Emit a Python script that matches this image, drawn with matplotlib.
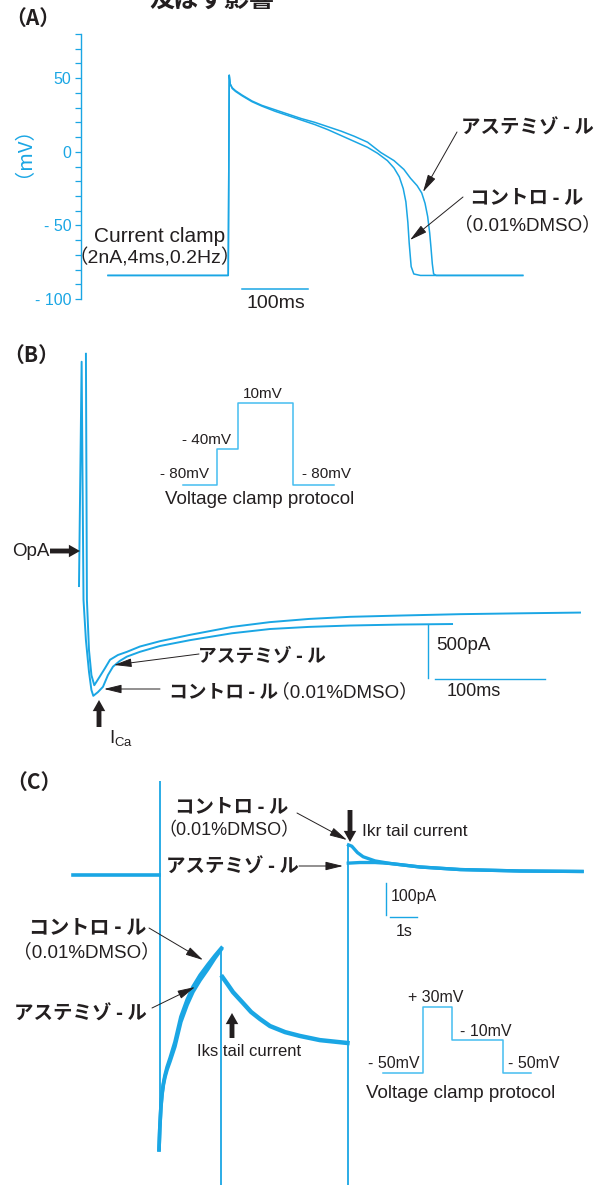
import matplotlib
matplotlib.use('Agg')
import matplotlib.pyplot as plt

plt.rcParams['mathtext.fontset'] = 'custom'
plt.rcParams['mathtext.rm'] = 'Liberation Sans'
plt.rcParams['mathtext.it'] = 'Liberation Sans'

# (A) action potential, ms / mV
ap_ctrl_t = [-183, -1, 0.5, 2, 5, 10, 20, 35, 50, 70, 90, 110, 130, 150, 170, 190, 210, 225, 240, 250,
             258, 264, 268, 271, 273, 276, 280, 290, 445]
ap_ctrl_v = [-84, -84, 52, 46, 43, 41, 38, 34, 31, 27.5, 24.5, 21.5, 18.5, 15, 11, 7, 3, -1, -6, -11,
             -17, -25, -34, -48, -62, -78, -83, -84, -84]
ap_astem_t = [-183, -1, 0.5, 2, 5, 10, 20, 35, 50, 70, 90, 110, 130, 150, 170, 190, 210, 230, 250, 265,
              275, 285, 292, 297, 301, 304, 306, 308, 310, 314, 445]
ap_astem_v = [-84, -84, 52, 46, 43.5, 41.5, 38.5, 34.5, 31.5, 28.5, 25.5, 22.5, 20, 17, 14, 10.5, 6.5, -0.5, -6, -12,
              -18, -23, -28, -35, -44, -55, -65, -76, -83, -84, -84]

# (B) Ca current, ms / pA
ica_ctrl_t = [-2.7, -0.3, 1.4, 3.6, 6.4, 8.6, 10.3, 14.5, 19.1, 23.6, 28.2, 34.5, 40.9, 52.7, 70.9, 98.2,
              136.4, 170.9, 206.4, 243.6, 289.1, 336.4]
ica_ctrl_i = [-340, 1775, -470, -850, -1150, -1320, -1375, -1340, -1290, -1180, -1100, -1045, -1005, -960,
              -905, -850, -785, -745, -725, -712, -703, -698]
ica_astem_t = [3.6, 4.5, 6.4, 8.6, 11.2, 16.4, 20.9, 25.5, 32.7, 40.9, 52.7, 70.9, 98.2, 136.4, 170.9,
               206.4, 243.6, 289.1, 343.6, 398.2, 452.7]
ica_astem_i = [1850, -470, -945, -1180, -1275, -1190, -1115, -1035, -990, -960, -910, -860, -800, -725,
               -680, -650, -630, -618, -605, -597, -590]

# (C) K currents, s / pA
ikr_pre_t = [-3.2, 0]
ikr_pre_i = [0, 0]
ikr_ctrl_t = [7.02, 7.14, 7.35, 7.56, 8.0, 8.56, 9.67, 11.15, 13.37, 15.67]
ikr_ctrl_i = [94, 90, 70, 57, 44, 36, 25, 17, 12.5, 11]
ikr_astem_t = [7.01, 7.44, 8.0, 8.56, 9.67, 11.15, 13.37, 15.67]
ikr_astem_i = [37, 39, 39, 36, 25, 17, 12.5, 11]
iks_act_t = [0, 0.03, 0.07, 0.11, 0.16, 0.22, 0.3, 0.41, 0.59, 0.81, 1.04, 1.26, 1.52, 1.81, 2.07, 2.31]
iks_ctrl_i = [-859, -790, -725, -684, -652, -626, -600, -572, -522, -443, -390, -349, -313, -280, -252, -228]
iks_astem_i = [-859, -790, -727, -688, -657, -632, -608, -582, -536, -459, -406, -365, -329, -294, -260, -232]
iks_tail_t = [2.35, 2.56, 2.74, 3.11, 3.41, 3.74, 4.11, 4.67, 5.22, 5.96, 6.98]
iks_tail_i = [-319, -344, -366, -400, -428, -450, -472, -491, -503, -516, -525]
step_t = [0.02, 2.31, 7.0]
step_top = [294, -228, 94]
step_bottom = [-859, -1100, -1100]

# protocols (arbitrary time units / mV)
prot_b_t = [0, 34, 34, 55, 55, 110, 110, 151]
prot_b_v = [-80, -80, -40, -40, 10, 10, -80, -80]
prot_c_t = [0, 40, 40, 69, 69, 120, 120, 148]
prot_c_v = [-50, -50, 30, 30, -10, -10, -50, -50]

W, H = 602, 1185
BLUE = '#1aa6e4'
LIGHT = '#45bdf0'
INK = '#231f20'
JP = ['Noto Sans CJK JP']
LAT = ['Liberation Sans', 'Noto Sans CJK JP']

fig = plt.figure(figsize=(W / 100, H / 100), dpi=100)


def box(x0, y0, x1, y1):
    return [x0 / W, 1 - y1 / H, (x1 - x0) / W, (y1 - y0) / H]


def txt(x, y, s, size, fam=LAT, weight='normal', color=INK, ha='center', va='center', **kw):
    fig.text(x / W, 1 - y / H, s, fontsize=size, family=fam, weight=weight, color=color,
             ha=ha, va=va, **kw)


def arrow(ax, x0, y0, x1, y1, thick=False):
    if thick:
        props = dict(arrowstyle='simple,head_length=0.8,head_width=0.9,tail_width=0.35',
                     color=INK, lw=0, shrinkA=0, shrinkB=0, mutation_scale=10)
    else:
        props = dict(arrowstyle='-|>,head_length=0.9,head_width=0.22', color=INK, lw=0.7,
                     shrinkA=0, shrinkB=0, mutation_scale=12)
    ax.annotate('', xy=(x1, H - y1), xycoords='figure pixels', xytext=(x0, H - y0),
                textcoords='figure pixels', arrowprops=props, annotation_clip=False)


# ---- (A)
axA = fig.add_axes(box(81, 34, 602, 299))
axA.patch.set_alpha(0)
axA.plot(ap_ctrl_t, ap_ctrl_v, color=BLUE, lw=1.1)
axA.plot(ap_astem_t, ap_astem_v, color=BLUE, lw=1.1)
axA.set_xlim(-224, 565)
axA.set_ylim(-100, 80)
for s in ['top', 'right', 'bottom']:
    axA.spines[s].set_visible(False)
axA.spines['left'].set_color(BLUE)
axA.spines['left'].set_linewidth(1.0)
axA.set_xticks([])
axA.set_yticks([-100, -50, 0, 50])
axA.set_yticklabels(['- 100', '- 50', '0', '50'])
axA.set_yticks(range(-100, 81, 10), minor=True)
axA.tick_params(axis='y', which='both', direction='out', length=4, width=0.9, color=BLUE,
                labelcolor=BLUE, labelsize=11.5, pad=3)
for lbl in axA.get_yticklabels():
    lbl.set_family('Liberation Sans')
axA.plot([20, 120], [-93, -93], color=BLUE, lw=1.1)

txt(149, 7, '及ぼす影響', 18, fam=JP, weight='bold', ha='left', va='baseline')
txt(33, 18, '（A）', 15, fam=JP, weight='bold')
txt(14, 142, '（mV）', 14.5, fam=JP, color=BLUE, rotation=90)
txt(160, 236, 'Current clamp', 15)
txt(155, 258, '（2nA,4ms,0.2Hz）', 14)
txt(276, 304, '100ms', 14)
txt(527, 128, 'アステミゾ - ル', 14, fam=JP, weight='bold')
txt(527, 198, 'コントロ - ル', 14, fam=JP, weight='bold')
txt(527, 225, '（0.01%DMSO）', 13.5)
arrow(axA, 457, 132, 423, 192)
arrow(axA, 463, 197, 410, 240)

# ---- (B)
axB = fig.add_axes(box(0, 340, 602, 760))
axB.axis('off')
axB.plot(ica_ctrl_t, ica_ctrl_i, color=BLUE, lw=1.4)
axB.plot(ica_astem_t, ica_astem_i, color=BLUE, lw=1.4)
axB.plot([314.5, 314.5], [-707, -1207], color=BLUE, lw=1.0)
axB.plot([321, 421], [-1216, -1216], color=BLUE, lw=1.0)
axB.set_xlim(-74.5, 472.7)
axB.set_ylim(-1980, 1980)

insB = fig.add_axes(box(183, 398.4, 334, 489.6))
insB.axis('off')
insB.plot(prot_b_t, prot_b_v, color=LIGHT, lw=1.1, clip_on=False)
insB.set_xlim(0, 151)
insB.set_ylim(-85, 15)

txt(31, 355, '（B）', 15, fam=JP, weight='bold')
txt(263, 394, '10mV', 11)
txt(206, 440, '- 40mV', 11)
txt(185, 474, '- 80mV', 11)
txt(326, 474, '- 80mV', 11)
txt(260, 500, 'Voltage clamp protocol', 13.5)
txt(31, 551, 'OpA', 13.5)
arrow(axB, 50, 551, 80, 551, thick=True)
txt(262, 656, 'アステミゾ - ル', 13.5, fam=JP, weight='bold')
arrow(axB, 199, 654, 114, 665)
txt(224, 692, 'コントロ - ル', 13.5, fam=JP, weight='bold')
txt(344, 692, '（0.01%DMSO）', 13.5)
arrow(axB, 160, 689, 104, 689)
arrow(axB, 99, 727, 99, 700, thick=True)
txt(109, 738, r'I$_{\rm Ca}$', 13.5, ha='left')
txt(463, 645, '500pA', 13.5)
txt(474, 692, '100ms', 13)

# ---- (C)
axC = fig.add_axes(box(0, 770, 602, 1185))
axC.axis('off')
axC.vlines(step_t, step_bottom, step_top, color=BLUE, lw=1.3)
axC.plot(ikr_pre_t, ikr_pre_i, color=BLUE, lw=2.6)
axC.plot(ikr_astem_t, ikr_astem_i, color=BLUE, lw=2.4)
axC.plot(ikr_ctrl_t, ikr_ctrl_i, color=BLUE, lw=2.4)
axC.plot(iks_act_t, iks_astem_i, color=BLUE, lw=2.6)
axC.plot(iks_act_t, iks_ctrl_i, color=BLUE, lw=2.6)
axC.plot(iks_tail_t, iks_tail_i, color=BLUE, lw=3.2)
axC.plot([8.41, 8.41], [-25, -125], color=BLUE, lw=1.0)
axC.plot([8.56, 9.56], [-131, -131], color=BLUE, lw=1.0)
axC.set_xlim(-5.889, 16.407)
axC.set_ylim(-968.75, 328.1)

insC = fig.add_axes(box(383, 1002.9, 531, 1077.1))
insC.axis('off')
insC.plot(prot_c_t, prot_c_v, color=LIGHT, lw=1.1, clip_on=False)
insC.set_xlim(0, 148)
insC.set_ylim(-55, 35)

txt(34, 782, '（C）', 15, fam=JP, weight='bold')
txt(232, 807, 'コントロ - ル', 14, fam=JP, weight='bold')
txt(229, 831, '（0.01%DMSO）', 13)
arrow(axC, 297, 813, 347, 840)
arrow(axC, 350, 810, 350, 842, thick=True)
txt(362, 832, 'Ikr tail current', 12.5, ha='left')
txt(232, 867, 'アステミゾ - ル', 14, fam=JP, weight='bold')
arrow(axC, 299, 866, 343, 866)
txt(414, 896, '100pA', 11.5)
txt(404, 931, '1s', 11.5)
txt(88, 927, 'コントロ - ル', 14.5, fam=JP, weight='bold')
txt(86, 952, '（0.01%DMSO）', 13.5)
arrow(axC, 149, 928, 203, 960)
txt(80, 1014, 'アステミゾ - ル', 14, fam=JP, weight='bold')
arrow(axC, 152, 1008, 195, 987)
arrow(axC, 232, 1038, 232, 1013, thick=True)
txt(249, 1052, 'Iks tail current', 12)
txt(436, 997, '+ 30mV', 11.5)
txt(486, 1032, '- 10mV', 11.5)
txt(394, 1063, '- 50mV', 11.5)
txt(534, 1063, '- 50mV', 11.5)
txt(461, 1093, 'Voltage clamp protocol', 13.5)

fig.savefig('out.png', dpi=100)
